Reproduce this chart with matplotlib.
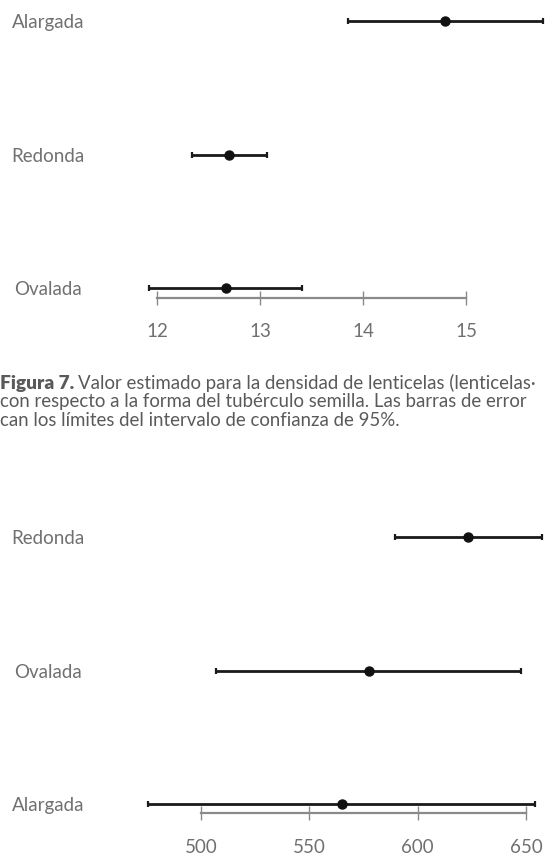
import matplotlib
matplotlib.use("Agg")
import matplotlib.pyplot as plt

# Lenticel density by seed-tuber shape (estimate and 95% CI)
shapes_density = ["Ovalada", "Redonda", "Alargada"]
density_est = [12.67, 12.70, 14.80]
density_low = [11.92, 12.34, 13.85]
density_high = [13.41, 13.07, 15.75]
density_ticks = [12, 13, 14, 15]

# Second variable by seed-tuber shape (estimate and 95% CI)
shapes_second = ["Alargada", "Ovalada", "Redonda"]
second_est = [565.1, 577.5, 623.2]
second_low = [475.5, 506.9, 589.5]
second_high = [654.1, 647.7, 657.4]
second_ticks = [500, 550, 600, 650]

# Caption as it runs into the page's right edge
caption_lines = [
    "Valor estimado para la densidad de lenticelas (lenticelas·",
    "con respecto a la forma del tubérculo semilla. Las barras de error",
    "can los límites del intervalo de confianza de 95%.",
]

W, H = 555, 857
fig = plt.figure(figsize=(W / 100, H / 100), dpi=100)
FONT = "Lato"
plt.rcParams["font.family"] = [FONT, "DejaVu Sans"]
GRAY = "#707070"
AXIS_GRAY = "#8a8a8a"
LABEL_SIZE = 13.5


def px_axes(left, top, right, bottom):
    return fig.add_axes([left / W, 1 - bottom / H, (right - left) / W, (bottom - top) / H])


def draw_panel(ax, cats, est, low, high, ticks, xlim, ylim, xpad):
    ypos = list(range(len(cats)))
    xerr = [[e - l for e, l in zip(est, low)], [h - e for e, h in zip(est, high)]]
    ax.errorbar(est, ypos, xerr=xerr, fmt="o", color="#111111", ecolor="#1a1a1a",
                elinewidth=2.0, capsize=2.5, capthick=1.6, markersize=6.5, zorder=3)
    ax.set_xlim(*xlim)
    ax.set_ylim(*ylim)
    for s in ["top", "right", "left"]:
        ax.spines[s].set_visible(False)
    ax.spines["bottom"].set_color(AXIS_GRAY)
    ax.spines["bottom"].set_linewidth(1.6)
    ax.spines["bottom"].set_bounds(ticks[0], ticks[-1])
    ax.set_xticks(ticks)
    ax.set_xticklabels([str(t) for t in ticks])
    ax.tick_params(axis="x", direction="inout", length=10, width=1.0, color=AXIS_GRAY,
                   labelsize=LABEL_SIZE, labelcolor=GRAY, pad=xpad)
    ax.set_yticks(ypos)
    ax.set_yticklabels(cats)
    ax.tick_params(axis="y", length=0, labelsize=LABEL_SIZE, labelcolor=GRAY, pad=59)
    for lab in ax.get_yticklabels():
        lab.set_horizontalalignment("center")
    ax.patch.set_alpha(0)


# Top panel: category rows at y px 288/155/21, axis line at 298
ax1 = px_axes(130, 0, 555, 298)
draw_panel(ax1, shapes_density, density_est, density_low, density_high, density_ticks,
           (11.738, 15.864), (-10 / 133.5, 288 / 133.5), 13)

# Bottom panel: category rows spaced 133.5 px, axis line at 813
ax2 = px_axes(130, 470, 555, 813)
draw_panel(ax2, shapes_second, second_est, second_low, second_high, second_ticks,
           (467.23, 663.38), (-9 / 133.5, 334 / 133.5), 14)

# Caption
cap_size = 13.4
cap_color = "#5a5a5a"
t = fig.text(0, 1 - 383 / H, "Figura 7.", fontsize=cap_size + 0.4, fontweight="heavy",
             color=cap_color, va="center", ha="left")
fig.canvas.draw()
bb = t.get_window_extent()
fig.text((bb.x1 + 4) / W, 1 - 383 / H, caption_lines[0], fontsize=cap_size,
         color=cap_color, va="center", ha="left")
fig.text(0, 1 - 401.5 / H, caption_lines[1], fontsize=cap_size, color=cap_color,
         va="center", ha="left")
fig.text(0, 1 - 420 / H, caption_lines[2], fontsize=cap_size, color=cap_color,
         va="center", ha="left")

fig.savefig("out.png", dpi=100)
